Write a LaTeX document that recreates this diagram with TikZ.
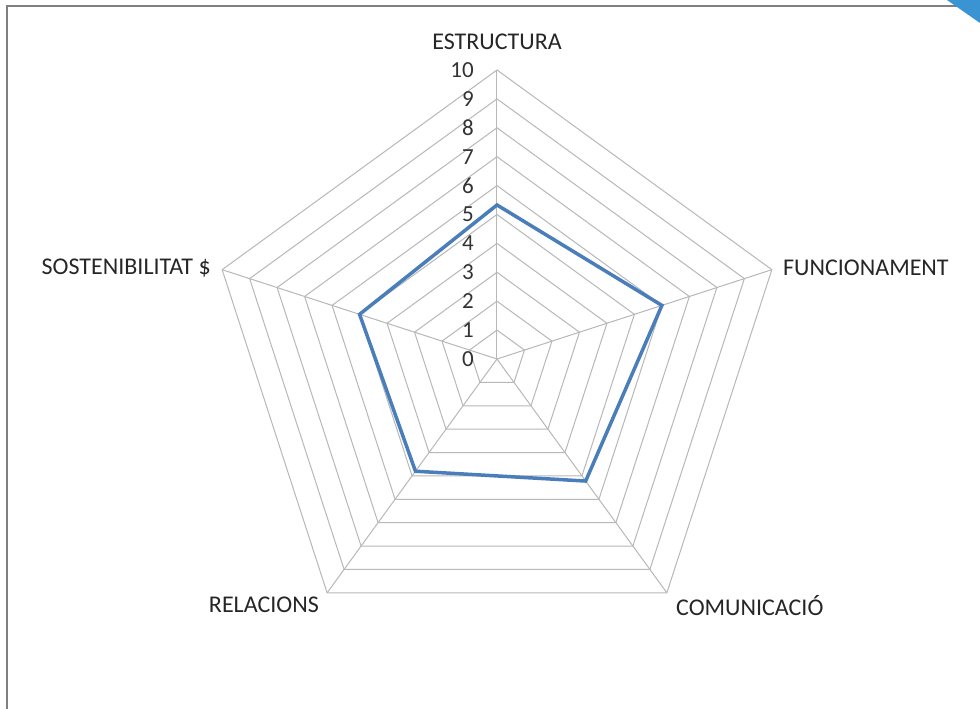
\documentclass[tikz,border=0pt]{standalone}
\usepackage{fontspec}
\setmainfont{Carlito}
\begin{document}
\begin{tikzpicture}[x=1pt,y=1pt,
  gridline/.style={draw=black!28,line width=1pt},
  dataline/.style={draw=datablue,line width=3.5pt,line join=miter},
  axlabel/.style={font=\fontsize{24}{26}\selectfont,text=black!85,inner sep=0pt},
  numlabel/.style={font=\fontsize{23}{25}\selectfont,text=black!80,inner sep=0pt,anchor=east}]
\definecolor{datablue}{HTML}{4A7EBB}
\definecolor{cornerblue}{HTML}{3A93D3}
\useasboundingbox (-497,-350) rectangle (483,359);
\fill[white] (-497,-350) rectangle (483,359);
% frame
\draw[black!50,line width=2pt] (-490,-350) -- (-490,353) -- (483,353);
\fill[cornerblue] (450,359) -- (483,359) -- (483,336) -- cycle;
% grid
\def\R{28.9}
\coordinate (c) at (0,0);
\foreach \k in {1,...,10}{
  \draw[gridline] (90:\k*\R) -- (18:\k*\R) -- (-54:\k*\R) -- (-126:\k*\R) -- (162:\k*\R) -- cycle;
}
\foreach \a/\n in {90/vE,18/vF,-54/vC,-126/vR,162/vS}{
  \coordinate (\n) at (\a:10*\R);
  \draw[gridline] (c) -- (\n);
}
% numbers
\foreach \k in {0,...,10}{
  \node[numlabel] (n\k) at (-23,\k*\R) {\k};
}
% data
\coordinate (dE) at (90:5.33*\R);
\coordinate (dF) at (18:6.0*\R);
\coordinate (dC) at (-54:5.22*\R);
\coordinate (dR) at (-126:4.8*\R);
\coordinate (dS) at (162:5.0*\R);
\draw[dataline] (dE) -- (dF) -- (dC) -- (dR) -- (dS) -- cycle;
% axis labels
\node[axlabel] (lE) at (0,317) {ESTRUCTURA};
\node[axlabel,anchor=west] (lF) at (286,91) {FUNCIONAMENT};
\node[axlabel,anchor=west] (lC) at (179,-247) {COMUNICACIÓ};
\node[axlabel,anchor=east] (lR) at (-178,-246) {RELACIONS};
\node[axlabel,anchor=east] (lS) at (-286,91) {SOSTENIBILITAT \$};
\end{tikzpicture}
\end{document}
